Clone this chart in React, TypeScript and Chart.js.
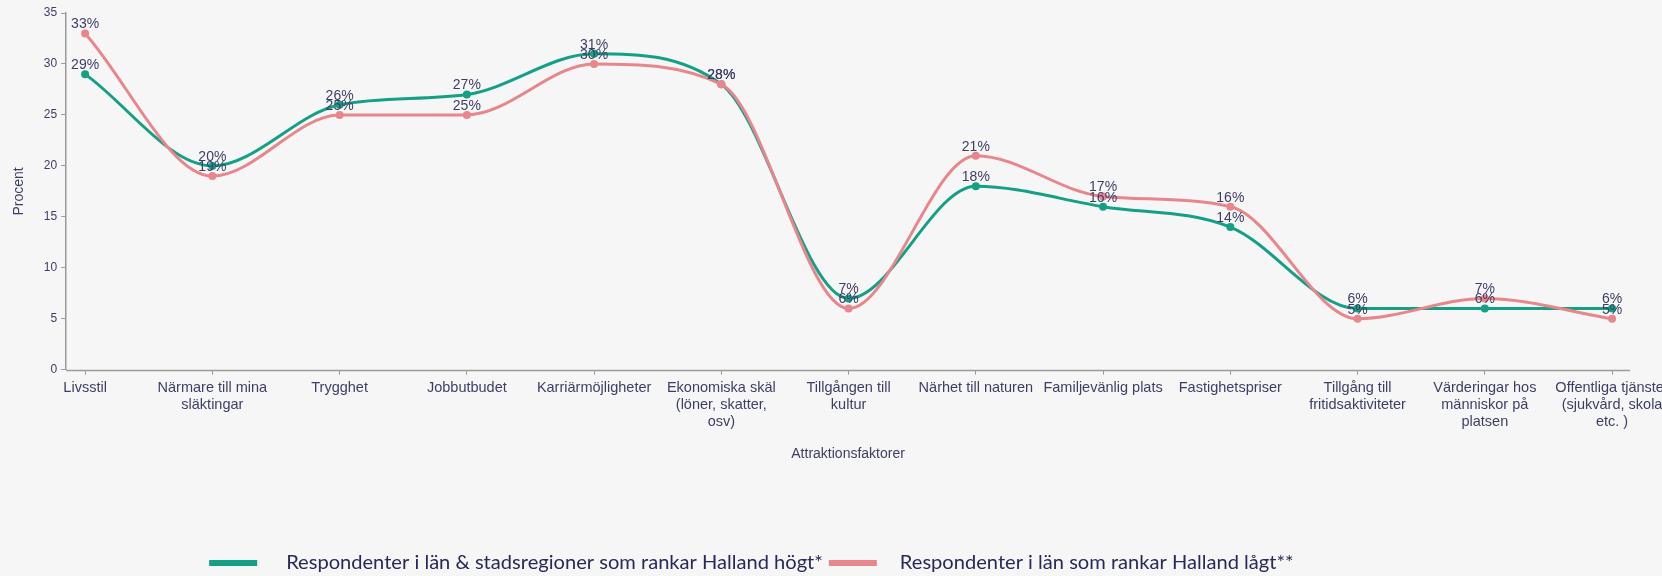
import React, { useEffect, useRef } from "react";
import { Chart, registerables } from "chart.js";

Chart.register(...registerables);

const categories: string[][] = [
  ["Livsstil"],
  ["Närmare till mina", "släktingar"],
  ["Trygghet"],
  ["Jobbutbudet"],
  ["Karriärmöjligheter"],
  ["Ekonomiska skäl", "(löner, skatter,", "osv)"],
  ["Tillgången till", "kultur"],
  ["Närhet till naturen"],
  ["Familjevänlig plats"],
  ["Fastighetspriser"],
  ["Tillgång till", "fritidsaktiviteter"],
  ["Värderingar hos", "människor på", "platsen"],
  ["Offentliga tjänster", "(sjukvård, skola", "etc. )"],
];

const seriesHighLabel = "Respondenter i län & stadsregioner som rankar Halland högt*";
const seriesLowLabel = "Respondenter i län som rankar Halland lågt**";

const seriesHigh: number[] = [29, 20, 26, 27, 31, 28, 7, 18, 16, 14, 6, 6, 6];
const seriesLow: number[] = [33, 19, 25, 25, 30, 28, 6, 21, 17, 16, 5, 7, 5];

const yTicks: number[] = [0, 5, 10, 15, 20, 25, 30, 35];

const GREEN = "#14a084";
const PINK = "#e8868b";
const TEXT = "#3d3e66";
const AXIS = "#9a9a9a";

const valueLabels = {
  id: "valueLabels",
  afterDatasetsDraw(chart: any) {
    const ctx = chart.ctx;
    ctx.save();
    ctx.font = "14px 'Liberation Sans', Arial, sans-serif";
    ctx.fillStyle = TEXT;
    ctx.textAlign = "center";
    ctx.textBaseline = "middle";
    chart.data.datasets.forEach((ds: any, i: number) => {
      const meta = chart.getDatasetMeta(i);
      meta.data.forEach((pt: any, j: number) => {
        const v = ds.data[j].y;
        ctx.fillText(`${v}%`, pt.x, pt.y - 9);
      });
    });
    ctx.restore();
  },
};

const xAxisLine = {
  id: "xAxisLine",
  beforeDatasetsDraw(chart: any) {
    const { ctx, chartArea } = chart;
    ctx.save();
    ctx.strokeStyle = AXIS;
    ctx.lineWidth = 1.5;
    ctx.beginPath();
    ctx.moveTo(chartArea.left, Math.round(chartArea.bottom) + 0.5);
    ctx.lineTo(chartArea.right, Math.round(chartArea.bottom) + 0.5);
    ctx.stroke();
    ctx.restore();
  },
};

const legendGaps = [29, 23];

const customLegend = {
  id: "customLegend",
  afterDraw(chart: any) {
    const ctx = chart.ctx;
    ctx.save();
    ctx.font = "20.1px Lato, 'Open Sans', sans-serif";
    ctx.textBaseline = "middle";
    ctx.textAlign = "left";
    const y = 563;
    let x = chart.chartArea.left + 143;
    chart.data.datasets.forEach((ds: any, i: number) => {
      ctx.fillStyle = ds.borderColor;
      ctx.fillRect(x, y - 3, 48, 6);
      x += 48 + legendGaps[i];
      ctx.fillStyle = "#272a58";
      ctx.fillText(ds.label, x, y);
      x += ctx.measureText(ds.label).width + 6;
    });
    ctx.restore();
  },
};

export default function App() {
  const ref = useRef<HTMLCanvasElement | null>(null);

  useEffect(() => {
    document.body.style.margin = "0";
    document.body.style.overflow = "hidden";
    document.body.style.background = "#f6f6f6";
    const canvas = ref.current;
    if (!canvas) return;
    const chart = new Chart(canvas, {
      type: "line",
      data: {
        datasets: [
          {
            label: seriesHighLabel,
            data: seriesHigh.map((v, i) => ({ x: i, y: v })),
            borderColor: GREEN,
            backgroundColor: GREEN,
            pointBackgroundColor: GREEN,
            pointBorderWidth: 0,
            pointRadius: 4,
            borderWidth: 3,
            cubicInterpolationMode: "monotone",
            order: 1,
          },
          {
            label: seriesLowLabel,
            data: seriesLow.map((v, i) => ({ x: i, y: v })),
            borderColor: PINK,
            backgroundColor: PINK,
            pointBackgroundColor: PINK,
            pointBorderWidth: 0,
            pointRadius: 4,
            borderWidth: 3,
            cubicInterpolationMode: "monotone",
            order: 0,
          },
        ],
      },
      options: {
        animation: false,
        responsive: false,
        devicePixelRatio: 1,
        layout: { padding: { top: 13, right: 70, bottom: 113, left: 0 } },
        plugins: {
          legend: { display: false },
          tooltip: { enabled: false },
        },
        scales: {
          x: {
            type: "linear",
            min: -0.149,
            max: 12.141,
            border: { display: false },
            grid: { drawOnChartArea: false, tickLength: 5, color: AXIS },
            ticks: {
              stepSize: 1,
              includeBounds: false,
              autoSkip: false,
              maxRotation: 0,
              minRotation: 0,
              padding: 5,
              color: TEXT,
              font: { family: "'Liberation Sans', Arial, sans-serif", size: 14.5, lineHeight: 1.16 },
              callback: (v: any) =>
                Number.isInteger(v) && categories[v] ? categories[v] : "",
            },
            title: {
              display: true,
              text: "Attraktionsfaktorer",
              color: TEXT,
              font: { family: "'Liberation Sans', Arial, sans-serif", size: 14 },
              padding: { top: 11, bottom: 0 },
            },
          },
          y: {
            min: 0,
            max: 35,
            afterBuildTicks: (axis: any) => {
              axis.ticks = yTicks.map((v) => ({ value: v }));
            },
            border: { color: AXIS, width: 1.5 },
            grid: { drawOnChartArea: false, tickLength: 5, color: AXIS },
            ticks: {
              padding: 4,
              color: TEXT,
              font: { family: "'Liberation Sans', Arial, sans-serif", size: 12 },
            },
            title: {
              display: true,
              text: "Procent",
              color: TEXT,
              font: { family: "'Liberation Sans', Arial, sans-serif", size: 14 },
              padding: { top: 11, bottom: 12 },
            },
          },
        },
      },
      plugins: [xAxisLine, valueLabels, customLegend],
    });
    return () => chart.destroy();
  }, []);

  return (
    <div style={{ width: 1662, height: 576, overflow: "hidden", background: "#f6f6f6" }}>
      <canvas ref={ref} width={1700} height={576} style={{ display: "block" }} />
    </div>
  );
}
